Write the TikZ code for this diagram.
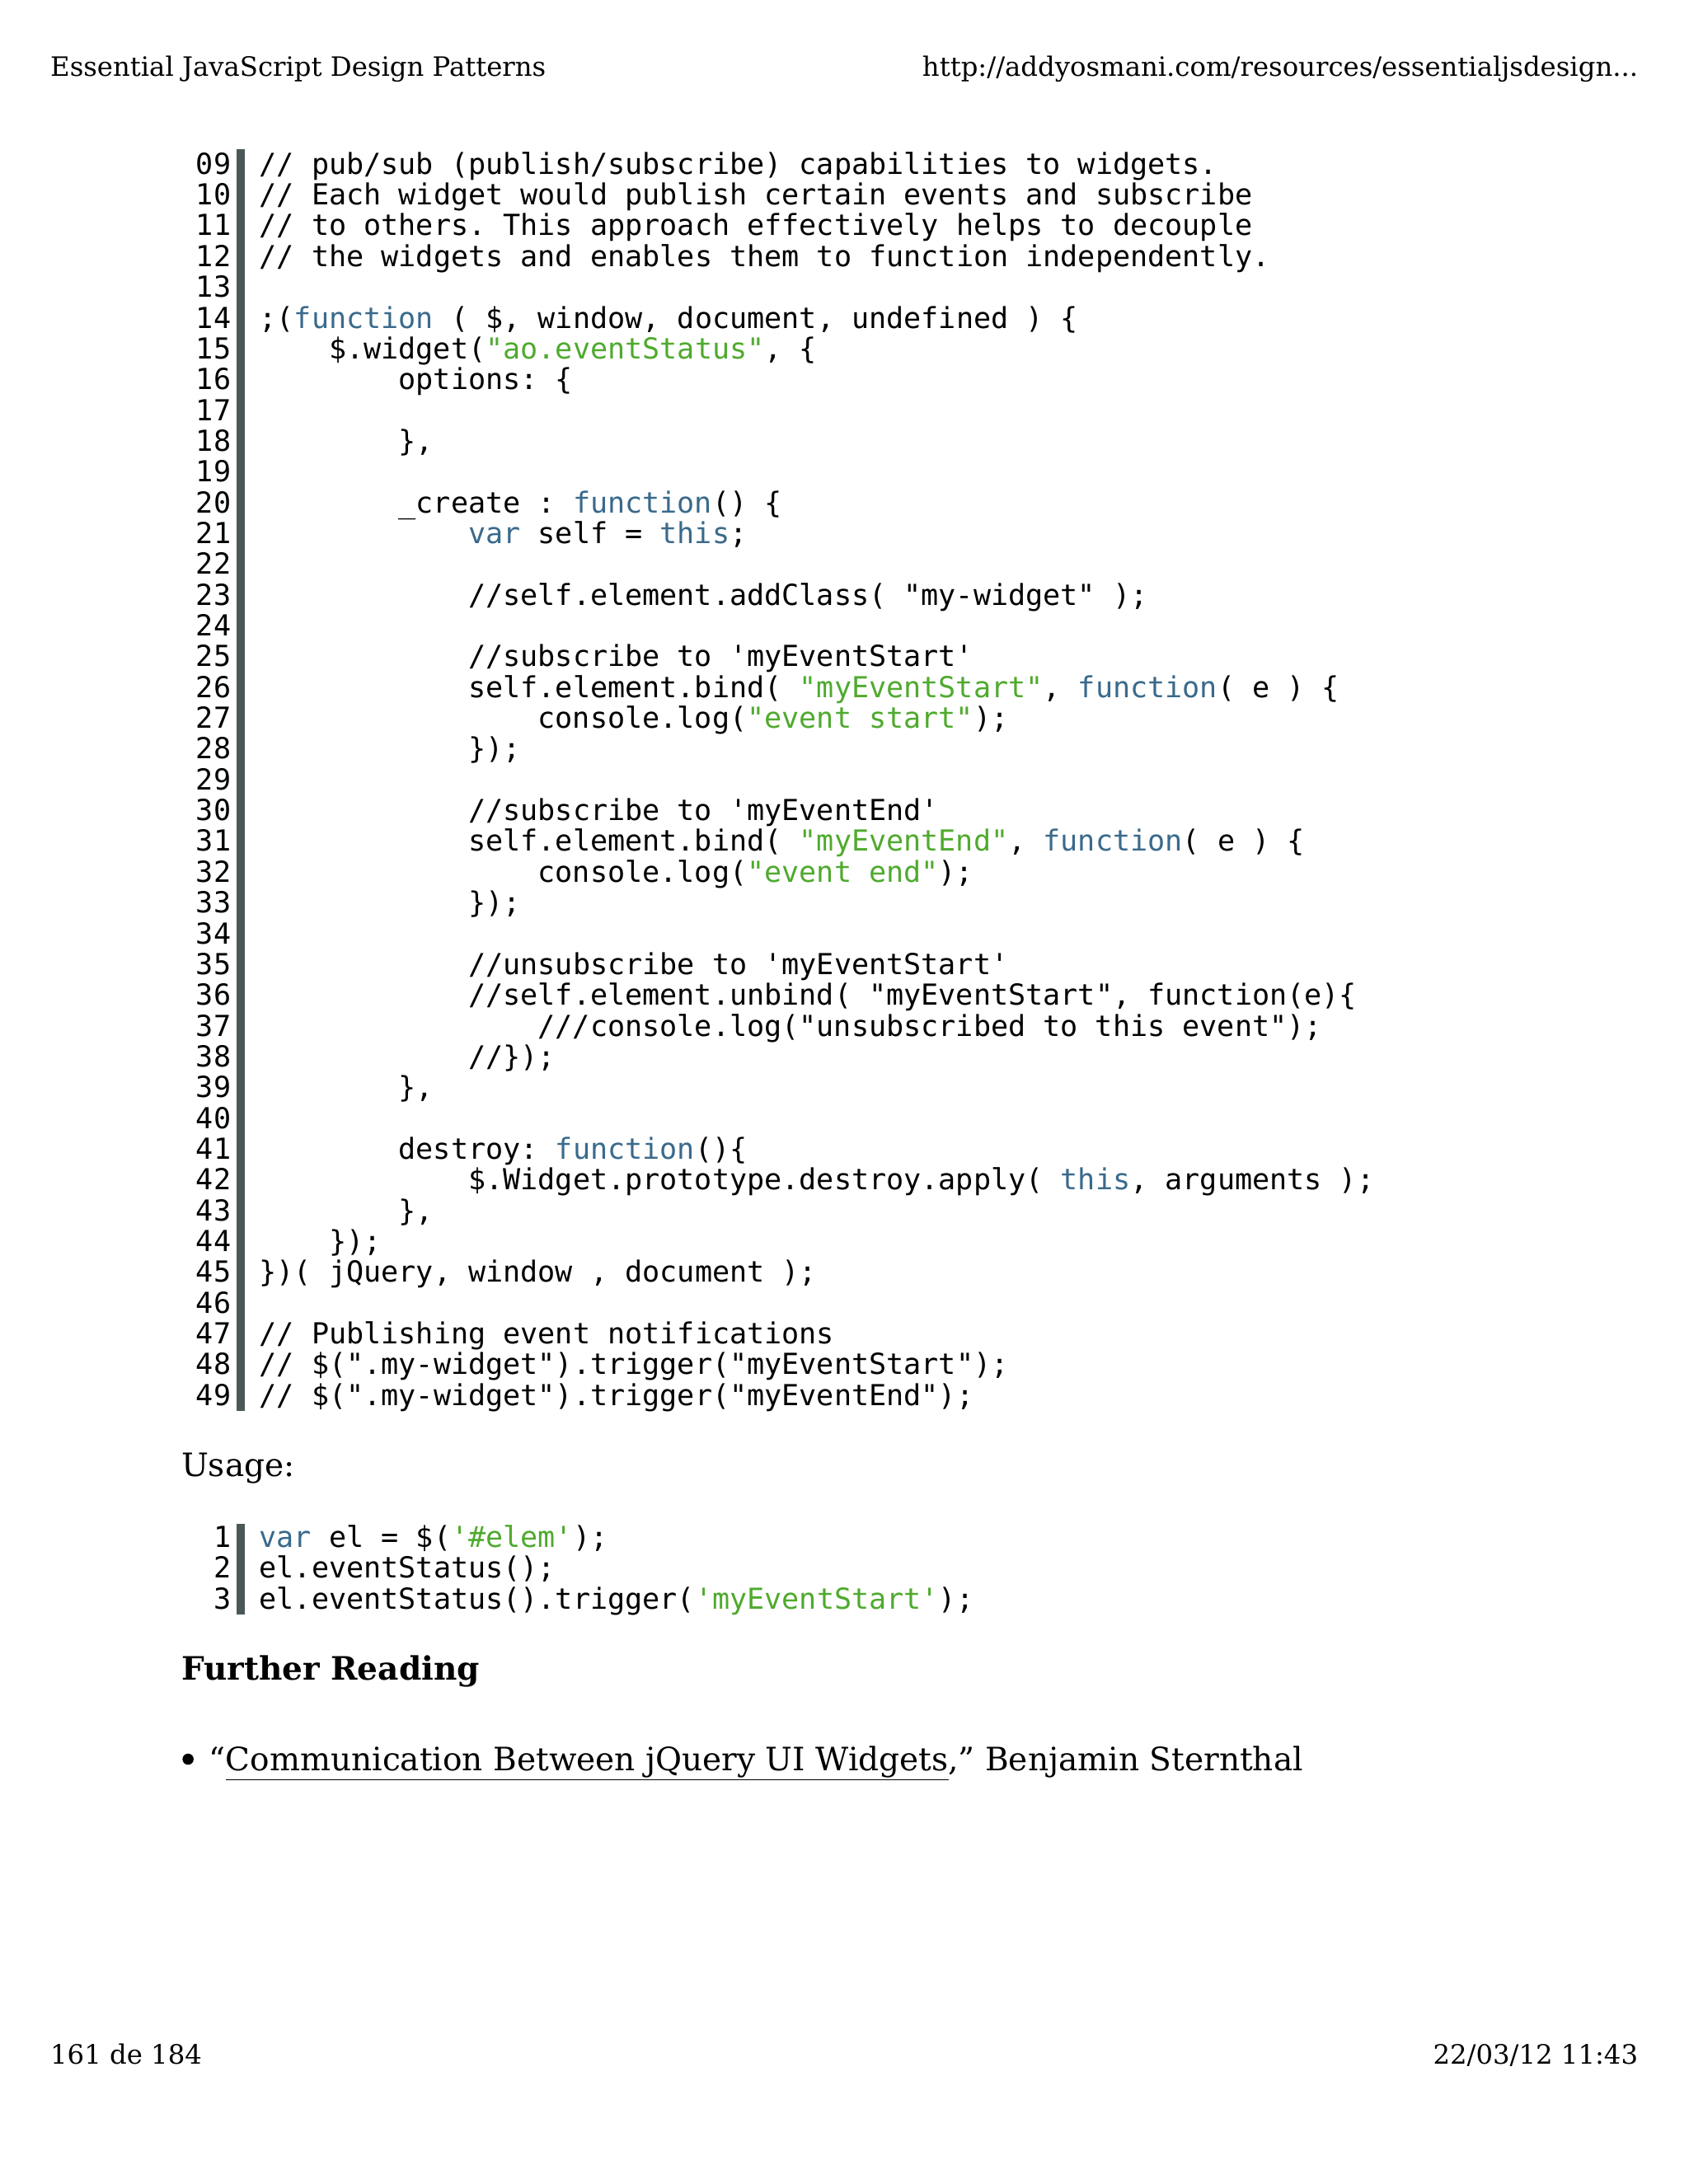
\documentclass[tikz,border=0pt]{standalone}
\usepackage{fontspec}
\setmainfont{DejaVu Serif}
\setmonofont{DejaVu Sans Mono}
\definecolor{kw}{HTML}{3A6A8C}
\definecolor{st}{HTML}{4FAA2E}
\definecolor{bar}{HTML}{4A5858}
\newcommand\kw[1]{\textcolor{kw}{#1}}
\newcommand\st[1]{\textcolor{st}{#1}}
\tikzset{
 code/.style={anchor=base west,inner sep=0pt,font=\fontsize{20.85}{24}\ttfamily},
 num/.style={anchor=base east,inner sep=0pt,font=\fontsize{20.85}{24}\ttfamily},
 serif/.style={inner sep=0pt,font=\fontsize{19.2}{24}\selectfont},
 body/.style={inner sep=0pt,font=\fontsize{23.2}{28}\selectfont},
}
\newcommand\cl[4]{\node[code] (c#2) at ({186+#3*50},{125+#2*22.1}) {#4};}
\newcommand\lnum[2]{\node[num] (n#2) at (166,{125+#2*22.1}) {#1};}
\begin{document}
\begin{tikzpicture}[x=1bp,y=-1bp]
\useasboundingbox[fill=white] (0,0) rectangle (1212,1568);
\node[serif,anchor=base west] (h1) at (36,55) {Essential JavaScript Design Patterns};
\node[serif,anchor=base east] (h2) at (1176,55) {http://addyosmani.com/resources/essentialjsdesign...};
\node[serif,anchor=base west] (f1) at (36,1482) {161 de 184};
\node[serif,anchor=base east] (f2) at (1176,1482) {22/03/12 11:43};
\fill[bar] (170,107) rectangle (176,1013);
\foreach \a [count=\i from 0] in {09,10,11,12,13,14,15,16,17,18,19,20,21,22,23,24,25,26,27,28,29,30,31,32,33,34,35,36,37,38,39,40,41,42,43,44,45,46,47,48,49}{\lnum{\a}{\i}}
\cl{09}{0}{0}{// pub/sub (publish/subscribe) capabilities to widgets.}
\cl{10}{1}{0}{// Each widget would publish certain events and subscribe}
\cl{11}{2}{0}{// to others. This approach effectively helps to decouple}
\cl{12}{3}{0}{// the widgets and enables them to function independently.}
\cl{14}{5}{0}{;(\kw{function} ( \$, window, document, undefined ) \{}
\cl{15}{6}{1}{\$.widget(\st{"ao.eventStatus"}, \{}
\cl{16}{7}{2}{options: \{}
\cl{18}{9}{2}{\},}
\cl{20}{11}{2}{\_create : \kw{function}() \{}
\cl{21}{12}{3}{\kw{var} self = \kw{this};}
\cl{23}{14}{3}{//self.element.addClass( "my-widget" );}
\cl{25}{16}{3}{//subscribe to 'myEventStart'}
\cl{26}{17}{3}{self.element.bind( \st{"myEventStart"}, \kw{function}( e ) \{}
\cl{27}{18}{4}{console.log(\st{"event start"});}
\cl{28}{19}{3}{\});}
\cl{30}{21}{3}{//subscribe to 'myEventEnd'}
\cl{31}{22}{3}{self.element.bind( \st{"myEventEnd"}, \kw{function}( e ) \{}
\cl{32}{23}{4}{console.log(\st{"event end"});}
\cl{33}{24}{3}{\});}
\cl{35}{26}{3}{//unsubscribe to 'myEventStart'}
\cl{36}{27}{3}{//self.element.unbind( "myEventStart", function(e)\{}
\cl{37}{28}{4}{///console.log("unsubscribed to this event");}
\cl{38}{29}{3}{//\});}
\cl{39}{30}{2}{\},}
\cl{41}{32}{2}{destroy: \kw{function}()\{}
\cl{42}{33}{3}{\$.Widget.prototype.destroy.apply( \kw{this}, arguments );}
\cl{43}{34}{2}{\},}
\cl{44}{35}{1}{\});}
\cl{45}{36}{0}{\})( jQuery, window , document );}
\cl{47}{38}{0}{// Publishing event notifications}
\cl{48}{39}{0}{// \$(".my-widget").trigger("myEventStart");}
\cl{49}{40}{0}{// \$(".my-widget").trigger("myEventEnd");}
\node[body,anchor=base west] (usage) at (130,1060) {Usage:};
\fill[bar] (170,1094) rectangle (176,1159);
\node[num] (u1n) at (166,1111) {1};
\node[num] (u2n) at (166,1133) {2};
\node[num] (u3n) at (166,1155) {3};
\node[code] (u1) at (186,1111) {\kw{var} el = \$(\st{'\#elem'});};
\node[code] (u2) at (186,1133) {el.eventStatus();};
\node[code] (u3) at (186,1155) {el.eventStatus().trigger(\st{'myEventStart'});};
\node[body,anchor=base west,font=\fontsize{23.2}{28}\bfseries] (fr) at (130,1206) {Further Reading};
\fill (135,1263) circle (4);
\node[body,anchor=base west] (li) at (150,1271) {“\underline{Communication Between jQuery UI Widgets},” Benjamin Sternthal};
\end{tikzpicture}
\end{document}
